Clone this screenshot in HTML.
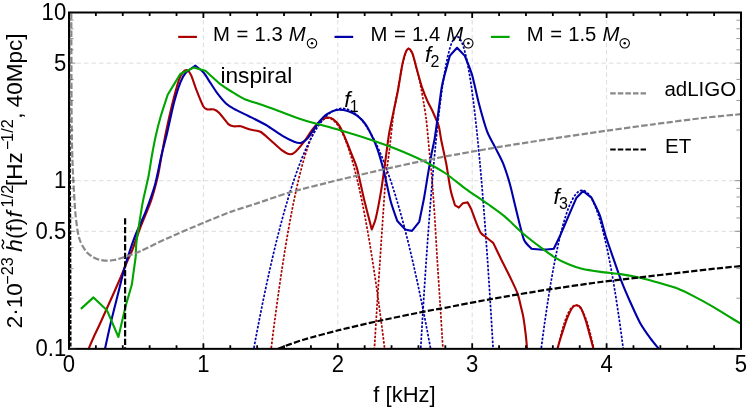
<!DOCTYPE html><html><head><meta charset="utf-8"><title>plot</title><style>
html,body{margin:0;padding:0;background:#fff;}svg{display:block;will-change:transform;}text{font-family:"Liberation Sans",sans-serif;fill:#000;}
</style></head><body>
<svg width="747" height="408" viewBox="0 0 747 408">
<rect width="747" height="408" fill="#fff"/>
<defs><clipPath id="c"><rect x="69.00" y="12.50" width="672.00" height="336.35"/></clipPath></defs>
<g stroke="#d9d9d9" stroke-width="0.9" stroke-dasharray="4.5,3" fill="none">
<line x1="203.40" y1="12.50" x2="203.40" y2="348.85"/>
<line x1="337.80" y1="12.50" x2="337.80" y2="348.85"/>
<line x1="472.20" y1="12.50" x2="472.20" y2="348.85"/>
<line x1="606.60" y1="12.50" x2="606.60" y2="348.85"/>
<line x1="69.00" y1="63.13" x2="741.00" y2="63.13"/>
<line x1="69.00" y1="180.68" x2="741.00" y2="180.68"/>
<line x1="69.00" y1="231.30" x2="741.00" y2="231.30"/>
</g>
<g clip-path="url(#c)" fill="none" stroke-linejoin="round" stroke-linecap="butt">
<path d="M69.5,12L69.7,110L70.5,225L70.8,349" stroke="#000" stroke-width="1.5" stroke-dasharray="4,1.6"/>
<path d="M270.73,352.00 L273.59,329.18 L276.45,307.54 L279.31,287.06 L282.17,267.76 L285.02,249.62 L287.88,232.66 L290.74,216.86 L293.60,202.24 L296.46,188.78 L299.32,176.50 L302.17,165.38 L305.03,155.44 L307.89,146.67 L310.75,139.06 L313.61,132.62 L316.47,127.36 L319.32,123.26 L322.18,120.34 L325.04,118.58 L327.90,118.00 L330.76,118.58 L333.62,120.34 L336.48,123.27 L339.33,127.36 L342.19,132.63 L345.05,139.06 L347.91,146.67 L350.77,155.44 L353.63,165.38 L356.48,176.50 L359.34,188.78 L362.20,202.24 L365.06,216.87 L367.92,232.66 L370.78,249.63 L373.63,267.76 L376.49,287.06 L379.35,307.54 L382.21,329.19 L385.07,352.00" stroke="#aa0000" stroke-width="1.7" stroke-dasharray="2.5,1.5"/>
<path d="M373.80,358.00 C373.89,356.59 374.07,353.80 374.50,346.90 C374.93,340.00 376.41,315.77 377.20,303.50 C377.99,291.23 380.02,260.29 380.70,250.00 C381.38,239.71 382.00,230.90 382.60,222.30 C383.20,213.70 384.54,191.26 385.40,182.10 C386.26,172.94 388.34,158.88 389.40,150.00 C390.46,141.12 392.69,119.85 393.80,112.00 C394.91,104.15 397.14,93.80 398.20,88.00 C399.26,82.20 401.26,70.66 402.20,66.20 C403.14,61.74 404.78,55.07 405.60,52.80 C406.42,50.53 407.83,48.12 408.70,48.30 C409.57,48.48 411.51,51.70 412.50,54.20 C413.49,56.70 415.51,64.23 416.50,68.00 C417.49,71.77 419.38,79.50 420.30,84.00 C421.22,88.50 423.05,99.07 423.80,103.50 C424.55,107.93 425.63,114.38 426.20,119.00 C426.77,123.62 427.82,134.93 428.30,140.00 C428.78,145.07 429.52,153.93 430.00,159.00 C430.48,164.07 431.50,172.67 432.10,180.00 C432.70,187.33 434.05,206.89 434.70,216.90 C435.35,226.91 436.52,248.03 437.20,259.00 C437.88,269.97 439.39,292.37 440.10,303.50 C440.81,314.63 442.37,340.00 442.80,346.90 C443.23,353.80 443.41,356.59 443.50,358.00" stroke="#aa0000" stroke-width="1.7" stroke-dasharray="2.5,1.5"/>
<path d="M557.18,352.00 L558.11,347.44 L559.04,343.11 L559.97,339.01 L560.90,335.15 L561.84,331.52 L562.77,328.13 L563.70,324.97 L564.63,322.05 L565.56,319.36 L566.49,316.90 L567.42,314.68 L568.35,312.69 L569.28,310.93 L570.21,309.41 L571.15,308.12 L572.08,307.07 L573.01,306.25 L573.94,305.67 L574.87,305.32 L575.80,305.20 L576.73,305.32 L577.66,305.67 L578.59,306.25 L579.52,307.07 L580.45,308.13 L581.39,309.41 L582.32,310.93 L583.25,312.69 L584.18,314.68 L585.11,316.90 L586.04,319.36 L586.97,322.05 L587.90,324.97 L588.83,328.13 L589.76,331.53 L590.70,335.15 L591.63,339.01 L592.56,343.11 L593.49,347.44 L594.42,352.00" stroke="#aa0000" stroke-width="1.7" stroke-dasharray="2.5,1.5"/>
<path d="M253.18,352.00 L257.63,328.24 L262.08,305.70 L266.53,284.37 L270.98,264.27 L275.43,245.38 L279.88,227.71 L284.33,211.26 L288.79,196.03 L293.24,182.02 L297.69,169.23 L302.14,157.65 L306.59,147.29 L311.04,138.15 L315.49,130.23 L319.94,123.53 L324.40,118.05 L328.85,113.78 L333.30,110.74 L337.75,108.91 L342.20,108.30 L346.65,108.91 L351.10,110.74 L355.55,113.78 L360.00,118.05 L364.46,123.53 L368.91,130.23 L373.36,138.15 L377.81,147.29 L382.26,157.65 L386.71,169.22 L391.16,182.02 L395.61,196.03 L400.07,211.26 L404.52,227.71 L408.97,245.38 L413.42,264.27 L417.87,284.37 L422.32,305.70 L426.77,328.24 L431.22,352.00" stroke="#0000aa" stroke-width="1.7" stroke-dasharray="2.5,1.5"/>
<path d="M420.51,352.00 L422.33,321.24 L424.15,292.05 L425.97,264.45 L427.79,238.42 L429.61,213.97 L431.43,191.09 L433.25,169.80 L435.07,150.08 L436.89,131.94 L438.71,115.38 L440.53,100.39 L442.35,86.98 L444.16,75.15 L445.98,64.90 L447.80,56.22 L449.62,49.12 L451.44,43.60 L453.26,39.66 L455.08,37.29 L456.90,36.50 L458.72,37.29 L460.54,39.66 L462.36,43.60 L464.18,49.12 L466.00,56.22 L467.82,64.90 L469.64,75.15 L471.45,86.98 L473.27,100.39 L475.09,115.37 L476.91,131.94 L478.73,150.08 L480.55,169.80 L482.37,191.09 L484.19,213.97 L486.01,238.42 L487.83,264.45 L489.65,292.05 L491.47,321.24 L493.29,352.00" stroke="#0000aa" stroke-width="1.7" stroke-dasharray="2.5,1.5"/>
<path d="M540.75,352.00 L542.82,336.23 L544.89,321.28 L546.96,307.13 L549.04,293.79 L551.11,281.26 L553.18,269.53 L555.26,258.62 L557.33,248.51 L559.40,239.21 L561.47,230.72 L563.55,223.04 L565.62,216.17 L567.69,210.11 L569.76,204.85 L571.84,200.41 L573.91,196.77 L575.98,193.94 L578.05,191.92 L580.13,190.70 L582.20,190.30 L584.27,190.70 L586.35,191.92 L588.42,193.94 L590.49,196.77 L592.56,200.41 L594.64,204.85 L596.71,210.11 L598.78,216.17 L600.85,223.04 L602.93,230.73 L605.00,239.21 L607.07,248.51 L609.14,258.62 L611.22,269.53 L613.29,281.26 L615.36,293.79 L617.44,307.13 L619.51,321.28 L621.58,336.23 L623.65,352.00" stroke="#0000aa" stroke-width="1.7" stroke-dasharray="2.5,1.5"/>
<path d="M85.50,356.00 C85.89,355.09 87.56,351.21 88.60,348.80 C89.64,346.39 92.33,340.01 93.70,337.00 C95.07,333.99 97.31,329.56 99.40,325.00 C101.49,320.44 107.65,306.70 110.20,301.00 C112.75,295.30 117.44,284.81 119.50,280.00 C121.56,275.19 124.88,266.80 126.50,263.00 C128.12,259.20 130.55,254.48 132.30,250.00 C134.05,245.52 137.93,233.82 140.30,227.60 C142.67,221.38 148.80,207.33 151.00,200.90 C153.20,194.47 156.43,182.11 157.70,176.80 C158.97,171.49 159.97,164.55 161.00,159.00 C162.03,153.45 164.36,140.03 165.80,133.00 C167.24,125.97 170.72,110.28 172.40,103.50 C174.08,96.72 177.73,83.49 179.10,79.50 C180.47,75.51 182.17,73.19 183.20,72.00 C184.23,70.81 186.19,69.67 187.20,70.10 C188.21,70.53 190.02,72.85 191.20,75.40 C192.38,77.95 194.98,86.30 196.50,90.20 C198.02,94.10 201.83,103.77 203.20,106.20 C204.57,108.63 205.93,108.99 207.30,109.40 C208.67,109.81 212.48,108.96 214.00,109.40 C215.52,109.84 217.44,111.00 219.30,112.90 C221.16,114.80 226.84,122.70 228.70,124.40 C230.56,126.10 232.48,126.06 234.00,126.30 C235.52,126.54 238.66,125.88 240.70,126.30 C242.74,126.72 247.60,128.92 250.10,129.60 C252.60,130.28 257.70,130.26 260.40,131.70 C263.10,133.14 268.65,138.63 271.40,141.00 C274.15,143.37 279.72,148.72 282.10,150.40 C284.48,152.08 288.50,154.14 290.20,154.30 C291.90,154.46 293.82,153.21 295.50,151.70 C297.18,150.19 301.30,145.28 303.50,142.40 C305.70,139.52 310.70,131.82 312.90,129.00 C315.10,126.18 319.04,121.56 320.90,120.10 C322.76,118.64 326.07,117.63 327.60,117.50 C329.13,117.37 331.47,117.99 333.00,119.10 C334.53,120.21 338.00,123.53 339.70,126.30 C341.40,129.07 344.91,137.49 346.40,141.00 C347.89,144.51 350.14,150.49 351.50,154.00 C352.86,157.51 355.54,163.10 357.10,168.70 C358.66,174.30 361.94,190.50 363.80,198.20 C365.66,205.90 370.79,225.54 371.80,229.50 C372.31,228.08 374.61,223.28 375.80,218.30 C376.99,213.32 380.01,197.33 381.20,190.20 C382.39,183.07 384.19,169.25 385.20,162.00 C386.21,154.75 388.05,139.84 389.20,133.00 C390.35,126.16 393.19,113.41 394.30,108.00 C395.41,102.59 397.02,95.59 398.00,90.30 C398.98,85.01 401.05,70.95 402.00,66.20 C402.95,61.45 404.65,55.00 405.50,52.80 C406.35,50.60 407.79,48.62 408.70,48.80 C409.61,48.98 411.69,51.65 412.70,54.20 C413.71,56.75 415.51,64.67 416.70,68.90 C417.89,73.13 420.74,83.53 422.10,87.60 C423.46,91.67 426.04,97.95 427.40,101.00 C428.76,104.05 431.36,108.50 432.80,111.70 C434.24,114.90 437.74,122.72 438.80,126.30 C439.86,129.88 440.26,135.29 441.20,140.00 C442.14,144.71 445.01,157.17 446.20,163.50 C447.39,169.83 449.49,184.71 450.60,190.00 C451.71,195.29 454.44,203.36 455.00,205.30 C455.48,205.59 458.32,207.31 458.80,207.60 C459.32,207.04 462.38,203.76 462.90,203.20 C463.50,203.10 467.00,202.50 467.60,202.40 C468.06,203.25 470.19,206.76 471.20,209.10 C472.21,211.44 474.41,217.92 475.60,220.90 C476.79,223.88 479.30,230.56 480.60,232.60 C481.90,234.64 485.23,236.44 485.90,237.00 C486.82,237.75 492.28,242.15 493.20,242.90 C493.83,244.20 497.14,251.01 498.20,253.20 C499.26,255.39 499.98,256.93 501.60,260.20 C503.22,263.47 508.97,274.76 511.00,279.00 C513.03,283.24 516.27,289.90 517.60,293.70 C518.93,297.50 520.75,305.90 521.50,309.00 C522.25,312.10 522.97,315.00 523.50,318.20 C524.03,321.40 525.26,330.58 525.70,334.30 C526.14,338.02 526.71,344.34 527.00,347.60 C527.29,350.86 527.87,358.43 528.00,360.00" stroke="#aa0000" stroke-width="2.1"/>
<path d="M555.50,358.00 C555.79,356.68 557.00,350.60 557.80,347.60 C558.60,344.60 560.61,338.02 561.80,334.30 C562.99,330.58 565.84,321.59 567.20,318.20 C568.56,314.81 571.32,309.13 572.50,307.50 C573.68,305.87 575.47,305.30 576.50,305.30 C577.53,305.30 579.41,305.52 580.60,307.50 C581.79,309.48 584.72,317.34 585.90,320.90 C587.08,324.46 588.99,332.22 589.90,335.60 C590.81,338.98 592.39,344.76 593.10,347.60 C593.81,350.44 595.20,356.68 595.50,358.00" stroke="#aa0000" stroke-width="2.1"/>
<path d="M103.50,356.00 C103.69,355.09 104.06,353.07 105.00,348.80 C105.94,344.53 109.30,329.05 110.90,322.30 C112.50,315.55 115.90,302.29 117.60,295.50 C119.30,288.71 122.72,274.46 124.30,268.70 C125.88,262.94 128.58,254.52 130.10,250.00 C131.62,245.48 134.32,237.86 136.30,233.00 C138.28,228.14 143.33,217.71 145.70,211.60 C148.07,205.49 153.02,191.84 155.00,184.80 C156.98,177.76 159.77,162.56 161.30,156.00 C162.83,149.44 165.52,139.65 167.10,133.00 C168.68,126.35 172.10,109.95 173.80,103.50 C175.50,97.05 178.98,85.99 180.50,82.10 C182.02,78.21 183.93,74.89 185.80,72.80 C187.67,70.71 194.10,66.51 195.30,65.60 C196.37,66.50 201.90,70.61 203.75,72.70 C205.60,74.79 208.09,79.38 209.90,82.10 C211.71,84.82 215.96,91.49 218.00,94.20 C220.04,96.91 223.97,101.64 226.00,103.50 C228.03,105.36 231.15,107.32 234.00,108.90 C236.85,110.48 244.43,113.96 248.50,116.00 C252.57,118.04 261.84,122.50 266.10,125.00 C270.36,127.50 278.54,133.57 282.10,135.70 C285.66,137.83 291.82,140.89 294.20,141.80 C296.58,142.71 299.20,143.33 300.90,142.90 C302.60,142.47 305.57,140.67 307.60,138.40 C309.63,136.13 314.70,127.89 316.90,125.00 C319.10,122.11 323.13,117.30 325.00,115.60 C326.87,113.90 330.00,112.35 331.70,111.60 C333.40,110.85 336.37,109.78 338.40,109.70 C340.43,109.62 345.33,110.25 347.70,111.00 C350.07,111.75 354.90,114.00 357.10,115.60 C359.30,117.20 363.24,121.05 365.10,123.60 C366.96,126.15 370.22,132.41 371.80,135.70 C373.38,138.99 376.07,145.08 377.60,149.60 C379.13,154.12 382.25,164.90 383.90,171.40 C385.55,177.90 388.90,194.62 390.60,200.90 C392.30,207.18 396.45,218.45 397.30,221.00 C398.31,222.08 404.29,228.42 405.30,229.50 C406.15,229.68 411.15,230.72 412.00,230.90 C412.91,229.75 418.29,222.95 419.20,221.80 C419.81,218.81 422.89,204.24 424.00,198.20 C425.11,192.16 427.05,179.70 428.00,174.10 C428.95,168.50 430.65,158.52 431.50,154.00 C432.35,149.48 433.95,142.76 434.70,138.40 C435.45,134.04 436.53,125.98 437.40,119.60 C438.27,113.22 440.69,93.65 441.60,88.00 C442.51,82.35 443.56,79.07 444.60,75.00 C445.64,70.93 449.14,58.32 449.80,55.90 C450.72,54.86 456.14,48.74 457.06,47.70 C458.04,48.74 463.82,54.86 464.80,55.90 C465.72,58.32 470.36,69.16 472.10,75.00 C473.84,80.84 476.63,94.93 478.50,102.00 C480.37,109.07 484.82,125.11 486.90,130.80 C488.98,136.49 492.87,142.83 494.90,146.90 C496.93,150.97 501.04,158.33 502.90,162.90 C504.76,167.47 508.13,177.92 509.60,183.00 C511.07,188.08 513.31,198.14 514.50,203.00 C515.69,207.86 517.78,216.71 519.00,221.40 C520.22,226.09 522.52,236.53 524.10,240.00 C525.68,243.47 530.56,247.69 531.50,248.80 C532.98,248.90 540.38,249.60 543.20,249.60 C546.02,249.60 552.46,248.90 553.80,248.80 C554.65,247.03 558.64,238.94 560.50,234.80 C562.36,230.66 566.50,220.75 568.50,216.10 C570.50,211.45 575.31,200.38 576.30,198.10 C577.16,197.20 582.24,191.90 583.10,191.00 C584.16,191.84 590.44,196.76 591.50,197.60 C592.55,199.84 598.00,210.44 599.80,215.30 C601.60,220.16 603.96,230.49 605.70,236.00 C607.44,241.51 611.46,252.95 613.50,258.80 C615.54,264.65 619.74,276.85 621.80,282.20 C623.86,287.55 627.48,295.84 629.80,301.00 C632.12,306.16 637.44,318.10 640.10,322.90 C642.76,327.70 648.49,335.70 650.80,338.90 C653.11,342.10 656.63,346.16 658.30,348.20 C659.97,350.24 663.28,354.14 664.00,355.00" stroke="#0000aa" stroke-width="2.1"/>
<path d="M80.90,308.90 L93.50,297.40 L106.90,310.20 L118.40,337.00 L125.60,306.20 L131.80,284.80 L135.80,256.00" stroke="#00a500" stroke-width="2.1"/>
<path d="M135.80,256.00 C135.86,254.44 135.89,247.63 136.30,243.70 C136.71,239.77 138.15,230.42 139.00,225.00 C139.85,219.58 141.81,207.01 143.00,200.90 C144.19,194.79 147.26,182.61 148.40,176.80 C149.54,170.99 151.06,160.21 152.00,155.00 C152.94,149.79 154.74,140.45 155.80,135.70 C156.86,130.95 158.89,122.68 160.40,117.50 C161.91,112.32 166.78,97.68 167.70,94.80 C169.30,92.17 178.70,76.63 180.30,74.00 C182.01,73.19 192.09,68.41 193.80,67.60 C195.27,68.01 203.93,70.39 205.40,70.80 C206.83,72.09 214.77,79.29 216.70,81.00 C218.63,82.71 218.74,82.97 220.60,84.30 C222.46,85.63 228.35,89.61 231.40,91.50 C234.45,93.39 241.08,97.59 244.70,99.20 C248.32,100.81 255.93,102.81 260.00,104.20 C264.07,105.59 271.29,108.19 276.80,110.20 C282.31,112.21 295.70,117.62 303.50,120.10 C311.30,122.58 329.91,127.32 338.40,129.80 C346.89,132.28 363.33,137.33 370.50,139.70 C377.67,142.07 388.22,145.78 395.00,148.50 C401.78,151.22 417.67,158.10 424.00,161.20 C430.33,164.30 439.58,169.39 445.00,173.00 C450.42,176.61 461.29,185.71 466.80,189.70 C472.31,193.69 483.75,201.16 488.50,204.50 C493.25,207.84 499.93,212.43 504.30,216.10 C508.67,219.77 518.26,229.43 523.00,233.50 C527.74,237.57 537.63,245.15 541.70,248.20 C545.77,251.25 551.71,255.56 555.10,257.60 C558.49,259.64 565.11,262.88 568.50,264.30 C571.89,265.72 577.83,267.84 581.90,268.80 C585.97,269.76 595.51,271.19 600.60,271.90 C605.69,272.61 617.11,273.65 622.10,274.40 C627.09,275.15 635.35,276.74 640.00,277.80 C644.65,278.86 654.05,281.43 658.80,282.80 C663.55,284.17 673.10,286.92 677.50,288.60 C681.90,290.28 689.09,293.86 693.50,296.10 C697.91,298.34 707.89,303.75 712.30,306.30 C716.71,308.85 724.58,313.93 728.30,316.20 C732.02,318.47 740.00,323.19 741.70,324.20" stroke="#00a500" stroke-width="2.1"/>
<path d="M270.00,352.50 C271.37,351.89 276.56,349.32 280.80,347.70 C285.04,346.08 296.20,341.90 303.50,339.70 C310.80,337.50 328.90,332.67 338.40,330.30 C347.90,327.93 367.66,323.37 378.50,321.00 C389.34,318.63 415.58,313.27 424.00,311.60 C432.42,309.93 436.53,309.38 445.00,307.80 C453.47,306.22 477.97,301.39 490.90,299.10 C503.83,296.81 533.20,291.87 547.10,289.70 C561.00,287.53 588.82,283.56 600.60,282.00 C612.38,280.44 630.02,278.59 640.10,277.40 C650.18,276.21 670.04,273.78 680.20,272.60 C690.36,271.42 712.47,268.94 720.30,268.10 C728.13,267.26 739.25,266.27 742.00,266.00" stroke="#000" stroke-width="2.2" stroke-dasharray="6.3,2.3"/>
<path d="M125.1,218.3V349" stroke="#000" stroke-width="2.2" stroke-dasharray="6.3,2.3"/>
<path d="M71.30,5.00 C71.33,17.03 71.42,82.90 71.50,100.00 C71.58,117.10 71.76,131.77 71.90,140.00 C72.04,148.23 72.41,159.68 72.60,165.00 C72.79,170.32 73.06,176.05 73.40,182.00 C73.74,187.95 74.77,205.79 75.30,212.00 C75.83,218.21 77.03,227.45 77.60,231.00 C78.17,234.55 79.17,238.10 79.80,240.00 C80.43,241.90 81.69,244.42 82.60,246.00 C83.51,247.58 85.75,251.13 87.00,252.50 C88.25,253.87 90.98,255.90 92.50,256.80 C94.02,257.70 97.18,259.11 99.00,259.60 C100.82,260.09 105.00,260.65 106.90,260.70 C108.80,260.75 112.14,260.34 114.00,260.00 C115.86,259.66 118.27,259.11 121.60,258.00 C124.93,256.89 134.54,253.68 140.30,251.20 C146.06,248.72 158.96,242.06 167.10,238.40 C175.24,234.74 196.46,225.69 204.60,222.30 C212.74,218.91 225.02,213.92 231.40,211.60 C237.78,209.28 247.55,206.44 255.00,204.00 C262.45,201.56 279.64,195.34 290.20,192.30 C300.76,189.26 326.53,182.91 338.40,180.00 C350.27,177.09 373.06,171.74 383.90,169.30 C394.74,166.86 416.26,162.32 424.00,160.70 C431.74,159.08 436.02,158.15 445.00,156.50 C453.98,154.85 481.97,149.87 494.90,147.70 C507.83,145.53 533.03,141.54 547.10,139.40 C561.17,137.26 592.52,132.71 606.00,130.80 C619.48,128.89 640.72,125.98 653.50,124.30 C666.28,122.62 695.69,118.79 706.90,117.50 C718.11,116.21 737.55,114.53 742.00,114.10" stroke="#888888" stroke-width="2.2" stroke-dasharray="6.3,2.3"/>
</g>
<g stroke="#000" fill="none">
<rect x="69.00" y="12.50" width="672.00" height="336.35" stroke-width="2"/>
<path d="M69.00,348.85v-5.50M69.00,12.50v5.50M95.88,348.85v-3.60M95.88,12.50v3.60M122.76,348.85v-3.60M122.76,12.50v3.60M149.64,348.85v-3.60M149.64,12.50v3.60M176.52,348.85v-3.60M176.52,12.50v3.60M203.40,348.85v-5.50M203.40,12.50v5.50M230.28,348.85v-3.60M230.28,12.50v3.60M257.16,348.85v-3.60M257.16,12.50v3.60M284.04,348.85v-3.60M284.04,12.50v3.60M310.92,348.85v-3.60M310.92,12.50v3.60M337.80,348.85v-5.50M337.80,12.50v5.50M364.68,348.85v-3.60M364.68,12.50v3.60M391.56,348.85v-3.60M391.56,12.50v3.60M418.44,348.85v-3.60M418.44,12.50v3.60M445.32,348.85v-3.60M445.32,12.50v3.60M472.20,348.85v-5.50M472.20,12.50v5.50M499.08,348.85v-3.60M499.08,12.50v3.60M525.96,348.85v-3.60M525.96,12.50v3.60M552.84,348.85v-3.60M552.84,12.50v3.60M579.72,348.85v-3.60M579.72,12.50v3.60M606.60,348.85v-5.50M606.60,12.50v5.50M633.48,348.85v-3.60M633.48,12.50v3.60M660.36,348.85v-3.60M660.36,12.50v3.60M687.24,348.85v-3.60M687.24,12.50v3.60M714.12,348.85v-3.60M714.12,12.50v3.60M741.00,348.85v-5.50M741.00,12.50v5.50" stroke-width="1.8"/>
<path d="M69.00,348.85h6.50M741.00,348.85h-6.50M69.00,298.22h4.60M741.00,298.22h-4.60M69.00,268.61h4.60M741.00,268.61h-4.60M69.00,247.60h4.60M741.00,247.60h-4.60M69.00,231.30h6.50M741.00,231.30h-6.50M69.00,217.98h4.60M741.00,217.98h-4.60M69.00,206.73h4.60M741.00,206.73h-4.60M69.00,196.97h4.60M741.00,196.97h-4.60M69.00,188.37h4.60M741.00,188.37h-4.60M69.00,180.68h6.50M741.00,180.68h-6.50M69.00,130.05h4.60M741.00,130.05h-4.60M69.00,100.44h4.60M741.00,100.44h-4.60M69.00,79.42h4.60M741.00,79.42h-4.60M69.00,63.13h6.50M741.00,63.13h-6.50M69.00,49.81h4.60M741.00,49.81h-4.60M69.00,38.55h4.60M741.00,38.55h-4.60M69.00,28.80h4.60M741.00,28.80h-4.60M69.00,20.20h4.60M741.00,20.20h-4.60" stroke-width="0.55" stroke="#444"/>
</g>
<text transform="translate(66.20,20.10) scale(0.91,1)" font-size="24.3" text-anchor="end">10</text>
<text transform="translate(66.20,70.73) scale(0.91,1)" font-size="24.3" text-anchor="end">5</text>
<text transform="translate(66.20,188.28) scale(0.91,1)" font-size="24.3" text-anchor="end">1</text>
<text transform="translate(66.20,238.90) scale(0.91,1)" font-size="24.3" text-anchor="end">0.5</text>
<text transform="translate(66.20,356.45) scale(0.91,1)" font-size="24.3" text-anchor="end">0.1</text>
<text transform="translate(69.00,371.80) scale(0.91,1)" font-size="24.3" text-anchor="middle">0</text>
<text transform="translate(203.40,371.80) scale(0.91,1)" font-size="24.3" text-anchor="middle">1</text>
<text transform="translate(337.80,371.80) scale(0.91,1)" font-size="24.3" text-anchor="middle">2</text>
<text transform="translate(472.20,371.80) scale(0.91,1)" font-size="24.3" text-anchor="middle">3</text>
<text transform="translate(606.60,371.80) scale(0.91,1)" font-size="24.3" text-anchor="middle">4</text>
<text transform="translate(741.00,371.80) scale(0.91,1)" font-size="24.3" text-anchor="middle">5</text>
<text x="404.50" y="401.90" font-size="22" text-anchor="middle">f [kHz]</text>
<line x1="178.20" y1="36.9" x2="196.90" y2="36.9" stroke="#aa0000" stroke-width="2.2"/>
<text y="40.5" font-size="20.3"><tspan x="213.10">M</tspan><tspan x="236.50">=</tspan><tspan x="254.50">1.3</tspan><tspan x="288.70" font-style="italic">M</tspan></text>
<circle cx="312.00" cy="43.30" r="4.70" fill="none" stroke="#000" stroke-width="1.1"/><circle cx="312.00" cy="43.30" r="1.25" fill="#000"/>
<line x1="334.50" y1="36.9" x2="353.20" y2="36.9" stroke="#0000aa" stroke-width="2.2"/>
<text y="40.5" font-size="20.3"><tspan x="370.60">M</tspan><tspan x="394.00">=</tspan><tspan x="412.00">1.4</tspan><tspan x="446.20" font-style="italic">M</tspan></text>
<circle cx="468.30" cy="43.30" r="4.70" fill="none" stroke="#000" stroke-width="1.1"/><circle cx="468.30" cy="43.30" r="1.25" fill="#000"/>
<line x1="490.90" y1="36.9" x2="509.60" y2="36.9" stroke="#00a500" stroke-width="2.2"/>
<text y="40.5" font-size="20.3"><tspan x="526.80">M</tspan><tspan x="550.20">=</tspan><tspan x="568.20">1.5</tspan><tspan x="602.40" font-style="italic">M</tspan></text>
<circle cx="624.70" cy="43.30" r="4.70" fill="none" stroke="#000" stroke-width="1.1"/><circle cx="624.70" cy="43.30" r="1.25" fill="#000"/>
<line x1="610.2" y1="93.4" x2="646" y2="93.4" stroke="#888888" stroke-width="2.2" stroke-dasharray="5.5,2.1"/>
<text x="664.40" y="96.10" font-size="20.5" text-anchor="start">adLIGO</text>
<line x1="610.2" y1="149.5" x2="646" y2="149.5" stroke="#000" stroke-width="2.2" stroke-dasharray="5.5,2.1"/>
<text x="665.00" y="153.00" font-size="20.5" text-anchor="start">ET</text>
<text x="220.40" y="82.85" font-size="22.7" text-anchor="start">inspiral</text>
<text x="344.20" y="106.50" font-size="22.3"><tspan font-style="italic">f</tspan><tspan font-size="16" dy="5" dx="-0.7">1</tspan></text>
<text x="425.00" y="61.50" font-size="22.3"><tspan font-style="italic">f</tspan><tspan font-size="16" dy="5" dx="-0.7">2</tspan></text>
<text x="553.50" y="204.00" font-size="22.3"><tspan font-style="italic">f</tspan><tspan font-size="16" dy="5" dx="-0.7">3</tspan></text>
<g transform="rotate(-90)">
<text x="-328.30" y="21.90" font-size="22.5">2·10</text>
<text x="-284.80" y="13.00" font-size="16.3">−23</text>
<text x="-251.80" y="21.90" font-size="22.5" font-style="italic">h</text>
<text x="-239.00" y="21.90" font-size="22.5">(f)</text>
<text x="-217.60" y="21.90" font-size="22.5" font-style="italic">f</text>
<text x="-207.40" y="13.00" font-size="16.3">1/2</text>
<text x="-186.00" y="21.90" font-size="22.5">[Hz</text>
<text x="-149.90" y="13.00" font-size="16.3">−</text>
<text x="-141.90" y="13.00" font-size="16.3">1/2</text>
<text x="-118.70" y="21.90" font-size="22.5">,</text>
<text x="-107.20" y="21.90" font-size="22.5">40Mpc]</text>
<path d="M-249,4.0 q2.3,-3.2 4.7,-1.1 t4.7,-1.1" fill="none" stroke="#000" stroke-width="1.3"/>
</g>
</svg></body></html>
